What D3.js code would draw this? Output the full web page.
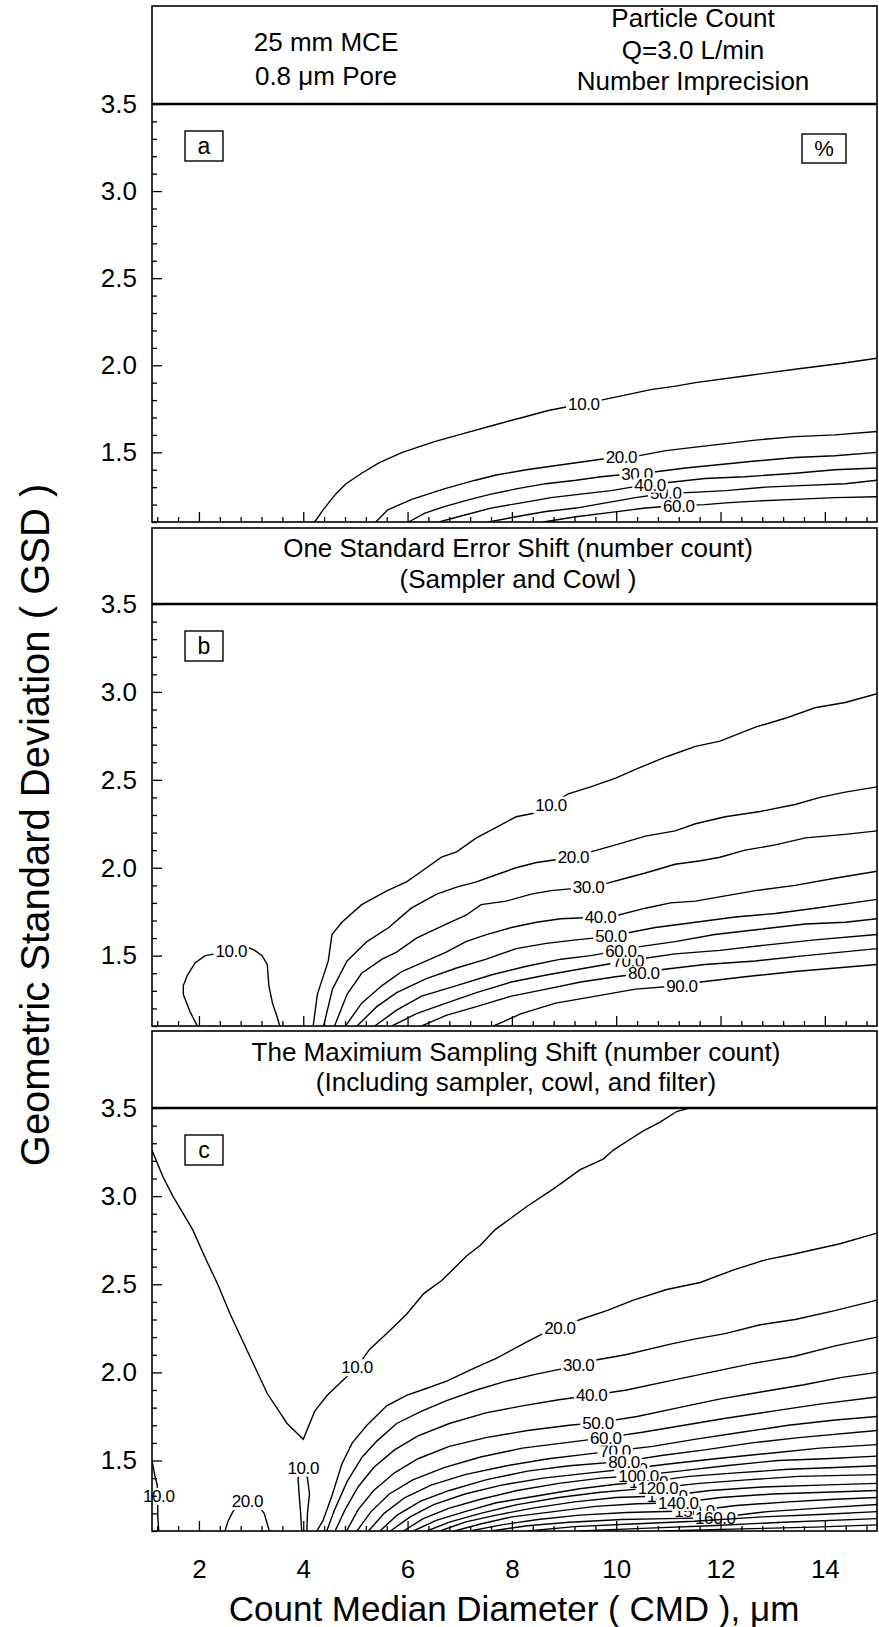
<!DOCTYPE html>
<html>
<head>
<meta charset="utf-8">
<script src="https://cdn.jsdelivr.net/npm/d3@7"></script>
<style>
  body { margin: 0; background: #fff; }
  text { font-family: "Liberation Sans", Arial, sans-serif; fill: #000; }
</style>
</head>
<body>
<svg width="879" height="1627"></svg>
<script>
// ---- data ----
const xDomain = [1.1, 15];
const yDomain = [1.1, 3.5];
const xTicks = [2, 4, 6, 8, 10, 12, 14];
const yTicks = [1.5, 2.0, 2.5, 3.0, 3.5];

const headerA_left = ['25 mm MCE', '0.8 \u03bcm Pore'];
const headerA_right = ['Particle Count', 'Q=3.0 L/min', 'Number Imprecision'];
const headerB = ['One Standard Error Shift (number count)', '(Sampler and Cowl )'];
const headerC = ['The Maximium Sampling Shift (number count)', '(Including sampler, cowl, and filter)'];
const panelTags = ['a', 'b', 'c'];

// contour lines: level, label position, points [CMD, GSD]
const contoursA = [
  {level: 10, label: [9.38, 1.78], pts: [[4.22,1.1],[4.38,1.17],[4.62,1.26],[4.82,1.32],[5.12,1.38],[5.45,1.44],[5.90,1.50],[6.50,1.56],[7.10,1.61],[7.70,1.66],[8.20,1.70],[8.70,1.74],[9.04,1.76],[9.38,1.78],[9.71,1.80],[10.19,1.83],[10.66,1.86],[11.14,1.88],[11.52,1.90],[12.5,1.94],[13.5,1.98],[14.3,2.01],[15,2.04]]},
  {level: 20, label: [10.1, 1.475], pts: [[5.39,1.1],[5.62,1.17],[6.08,1.23],[6.70,1.29],[7.30,1.34],[7.70,1.37],[8.28,1.40],[8.75,1.42],[9.23,1.44],[9.71,1.46],[10.1,1.47],[10.42,1.48],[10.95,1.51],[11.52,1.53],[12.10,1.55],[12.67,1.57],[13.43,1.59],[14.19,1.60],[15,1.62]]},
  {level: 30, label: [10.40, 1.375], pts: [[6.02,1.1],[6.32,1.15],[6.72,1.19],[7.20,1.23],[7.60,1.26],[8.08,1.29],[8.65,1.32],[9.23,1.34],[9.71,1.36],[10.05,1.37],[10.40,1.375],[10.80,1.39],[11.33,1.41],[12.0,1.43],[12.67,1.45],[13.43,1.47],[14.19,1.48],[15,1.50]]},
  {level: 40, label: [10.65, 1.315], pts: [[6.60,1.1],[7.10,1.14],[7.60,1.18],[8.18,1.21],[8.75,1.24],[9.32,1.26],[9.90,1.28],[10.30,1.30],[10.65,1.315],[11.09,1.33],[11.70,1.35],[12.47,1.36],[13.43,1.38],[14.19,1.40],[15,1.41]]},
  {level: 50, label: [10.95, 1.265], pts: [[7.55,1.1],[8.08,1.13],[8.65,1.16],[9.23,1.18],[9.80,1.21],[10.37,1.24],[10.95,1.265],[11.47,1.27],[12.10,1.28],[12.86,1.30],[13.63,1.31],[14.39,1.32],[15,1.34]]},
  {level: 60, label: [11.20, 1.195], pts: [[8.60,1.1],[9.23,1.13],[9.90,1.155],[10.56,1.18],[11.20,1.195],[11.70,1.20],[12.10,1.21],[12.67,1.22],[13.43,1.23],[14.19,1.24],[15,1.245]]}
];

const contoursB = [
  {level: 10, label: [2.62, 1.53], pts: [[1.97,1.1],[1.83,1.18],[1.70,1.28],[1.70,1.33],[1.78,1.39],[1.93,1.46],[2.12,1.50],[2.31,1.51],[2.62,1.53],[2.92,1.55],[3.07,1.53],[3.21,1.50],[3.31,1.45],[3.34,1.33],[3.41,1.23],[3.50,1.15],[3.55,1.1]]},
  {level: 10, label: [8.75, 2.36], pts: [[4.19,1.1],[4.27,1.28],[4.48,1.47],[4.55,1.62],[4.74,1.69],[5.12,1.79],[5.61,1.87],[5.98,1.92],[6.27,1.98],[6.65,2.06],[6.94,2.09],[7.32,2.17],[7.70,2.23],[8.08,2.29],[8.42,2.31],[8.75,2.36],[9.08,2.42],[9.51,2.46],[9.99,2.51],[10.37,2.56],[10.95,2.63],[11.52,2.69],[11.99,2.72],[12.67,2.80],[13.24,2.85],[13.81,2.91],[14.39,2.94],[15,2.99]]},
  {level: 20, label: [9.18, 2.06], pts: [[4.39,1.1],[4.56,1.31],[4.84,1.47],[5.22,1.58],[5.64,1.66],[6.07,1.77],[6.56,1.85],[6.94,1.89],[7.32,1.92],[7.70,1.96],[8.08,2.0],[8.47,2.03],[9.18,2.06],[9.51,2.09],[9.99,2.13],[10.56,2.18],[11.13,2.21],[11.52,2.25],[12.09,2.29],[12.76,2.32],[13.43,2.36],[13.91,2.40],[14.39,2.43],[15,2.46]]},
  {level: 30, label: [9.47, 1.89], pts: [[4.60,1.1],[4.84,1.28],[5.12,1.40],[5.51,1.48],[5.79,1.52],[6.17,1.60],[6.74,1.68],[7.12,1.73],[7.41,1.79],[7.89,1.81],[8.37,1.85],[8.75,1.87],[9.47,1.89],[9.80,1.91],[10.18,1.94],[10.56,1.97],[11.13,2.02],[11.62,2.04],[11.99,2.06],[12.47,2.10],[13.05,2.13],[13.63,2.17],[14.39,2.19],[15,2.21]]},
  {level: 40, label: [9.70, 1.72], pts: [[4.81,1.1],[5.12,1.23],[5.51,1.33],[5.89,1.41],[6.36,1.47],[6.74,1.52],[7.12,1.58],[7.51,1.62],[7.99,1.66],[8.47,1.69],[8.94,1.71],[9.70,1.72],[10.03,1.73],[10.56,1.77],[11.04,1.80],[11.52,1.81],[12.09,1.84],[12.67,1.87],[13.43,1.90],[14.19,1.94],[15,1.98]]},
  {level: 50, label: [9.90, 1.61], pts: [[5.03,1.1],[5.41,1.21],[5.79,1.29],[6.36,1.37],[6.94,1.43],[7.51,1.48],[8.08,1.54],[8.66,1.57],[9.23,1.59],[9.90,1.61],[10.23,1.63],[10.75,1.66],[11.52,1.69],[12.28,1.72],[13.05,1.74],[13.81,1.77],[15,1.82]]},
  {level: 60, label: [10.09, 1.53], pts: [[5.37,1.1],[5.79,1.19],[6.27,1.27],[6.94,1.33],[7.60,1.39],[8.28,1.44],[8.94,1.48],[9.51,1.50],[10.09,1.53],[10.42,1.55],[11.13,1.58],[11.89,1.62],[12.76,1.65],[13.63,1.68],[14.39,1.69],[15,1.71]]},
  {level: 70, label: [10.23, 1.47], pts: [[5.70,1.1],[6.17,1.17],[6.74,1.23],[7.32,1.29],[7.99,1.35],[8.66,1.39],[9.23,1.42],[9.80,1.45],[10.23,1.47],[10.42,1.48],[11.13,1.51],[11.99,1.53],[12.86,1.56],[13.81,1.59],[15,1.62]]},
  {level: 80, label: [10.53, 1.40], pts: [[6.27,1.1],[6.74,1.16],[7.32,1.21],[7.99,1.27],[8.66,1.31],[9.32,1.35],[9.99,1.38],[10.53,1.40],[10.85,1.42],[11.70,1.45],[12.67,1.47],[13.63,1.50],[15,1.54]]},
  {level: 90, label: [11.26, 1.33], pts: [[7.65,1.1],[8.18,1.17],[8.84,1.23],[9.61,1.27],[10.37,1.31],[11.26,1.33],[11.62,1.35],[12.47,1.38],[13.43,1.41],[15,1.45]]}
];

const contoursC = [
  {level: 10, label: [1.23, 1.30], pts: [[1.1,1.50],[1.15,1.42],[1.2,1.36],[1.21,1.30],[1.21,1.19],[1.23,1.1]]},
  {level: 20, label: [2.93, 1.27], pts: [[2.50,1.1],[2.55,1.15],[2.65,1.21],[2.80,1.26],[2.95,1.28],[3.10,1.26],[3.25,1.20],[3.35,1.1]]},
  {level: 10, label: [4.0, 1.46], pts: [[3.97,1.1],[3.95,1.2],[3.92,1.31],[3.90,1.40],[4.0,1.47],[4.08,1.40],[4.12,1.31],[4.08,1.2],[4.07,1.1]]},
  {level: 10, label: [5.03, 2.03], pts: [[1.1,3.26],[1.31,3.11],[1.50,3.0],[1.88,2.81],[2.12,2.65],[2.36,2.50],[2.60,2.33],[2.93,2.12],[3.31,1.88],[3.69,1.71],[4.0,1.62],[4.22,1.78],[4.46,1.87],[4.74,1.95],[5.03,2.03],[5.27,2.13],[5.60,2.22],[5.98,2.33],[6.32,2.45],[6.65,2.52],[7.13,2.66],[7.39,2.72],[7.68,2.81],[7.96,2.87],[8.28,2.94],[8.79,3.04],[9.31,3.15],[9.75,3.21],[9.94,3.26],[10.2,3.31],[10.52,3.37],[10.84,3.42],[11.16,3.48],[11.4,3.5]]},
  {level: 20, label: [8.92, 2.25], pts: [[4.26,1.1],[4.38,1.16],[4.55,1.30],[4.74,1.48],[4.94,1.60],[5.22,1.70],[5.60,1.81],[5.98,1.87],[6.37,1.91],[6.75,1.95],[7.32,2.03],[7.70,2.08],[8.27,2.17],[8.66,2.23],[8.92,2.25],[9.31,2.30],[9.82,2.35],[10.33,2.41],[10.97,2.47],[11.61,2.51],[12.24,2.58],[12.88,2.64],[13.39,2.67],[14.29,2.73],[15,2.79]]},
  {level: 30, label: [9.28, 2.04], pts: [[4.45,1.1],[4.60,1.22],[4.84,1.38],[5.13,1.52],[5.41,1.61],[5.79,1.71],[6.27,1.78],[6.75,1.84],[7.32,1.90],[7.89,1.95],[8.47,1.99],[9.28,2.04],[9.61,2.07],[10.18,2.10],[11.04,2.16],[11.52,2.19],[12.09,2.22],[12.76,2.27],[13.43,2.30],[14.19,2.35],[15,2.41]]},
  {level: 40, label: [9.53, 1.87], pts: [[4.61,1.1],[4.80,1.22],[5.05,1.35],[5.35,1.46],[5.75,1.56],[6.20,1.64],[6.80,1.71],[7.50,1.77],[8.20,1.81],[8.90,1.845],[9.53,1.87],[10.20,1.90],[11.0,1.95],[11.8,2.0],[12.6,2.05],[13.4,2.09],[14.2,2.15],[15,2.20]]},
  {level: 50, label: [9.65, 1.715], pts: [[4.83,1.1],[5.05,1.22],[5.35,1.33],[5.75,1.43],[6.20,1.51],[6.80,1.58],[7.50,1.63],[8.30,1.67],[9.10,1.70],[9.65,1.715],[10.4,1.75],[11.2,1.80],[12.0,1.85],[12.8,1.89],[13.6,1.93],[14.3,1.97],[15,2.0]]},
  {level: 60, label: [9.80, 1.63], pts: [[5.03,1.1],[5.30,1.21],[5.65,1.31],[6.10,1.39],[6.70,1.46],[7.40,1.52],[8.20,1.57],[9.0,1.60],[9.80,1.63],[10.5,1.66],[11.3,1.70],[12.1,1.74],[13.0,1.78],[13.9,1.82],[15,1.86]]},
  {level: 70, label: [9.98, 1.555], pts: [[5.25,1.1],[5.55,1.20],[5.95,1.29],[6.45,1.36],[7.10,1.42],[7.90,1.47],[8.70,1.51],[9.40,1.535],[9.98,1.555],[10.7,1.58],[11.5,1.62],[12.4,1.66],[13.3,1.70],[14.2,1.73],[15,1.75]]},
  {level: 80, label: [10.15, 1.495], pts: [[5.47,1.1],[5.80,1.19],[6.25,1.27],[6.80,1.33],[7.50,1.39],[8.30,1.44],[9.10,1.47],[10.15,1.495],[10.9,1.53],[11.7,1.56],[12.6,1.60],[13.5,1.63],[15,1.67]]},
  {level: 90, label: [10.30, 1.455], pts: [[5.67,1.1],[6.05,1.18],[6.50,1.25],[7.10,1.31],[7.80,1.36],[8.60,1.40],[9.50,1.43],[10.30,1.455],[11.0,1.48],[11.9,1.51],[12.9,1.54],[13.9,1.57],[15,1.59]]},
  {level: 100, label: [10.43, 1.415], pts: [[5.92,1.1],[6.30,1.17],[6.80,1.23],[7.40,1.28],[8.10,1.33],[8.90,1.37],[9.70,1.40],[10.43,1.415],[11.2,1.44],[12.1,1.47],[13.1,1.50],[14.0,1.51],[15,1.525]]},
  {level: 110, label: [10.62, 1.38], pts: [[6.11,1.1],[6.55,1.16],[7.10,1.21],[7.70,1.26],[8.50,1.30],[9.30,1.34],[10.0,1.365],[10.62,1.38],[11.4,1.41],[12.3,1.43],[13.3,1.45],[14.2,1.46],[15,1.47]]},
  {level: 120, label: [10.80, 1.345], pts: [[6.37,1.1],[6.80,1.15],[7.40,1.20],[8.10,1.25],[8.90,1.29],[9.70,1.32],[10.3,1.335],[10.80,1.345],[11.6,1.37],[12.5,1.39],[13.5,1.41],[15,1.42]]},
  {level: 130, label: [10.98, 1.30], pts: [[6.62,1.1],[7.10,1.15],[7.70,1.19],[8.40,1.23],[9.20,1.265],[10.0,1.29],[10.98,1.30],[11.8,1.33],[12.8,1.35],[13.9,1.36],[15,1.37]]},
  {level: 140, label: [11.19, 1.26], pts: [[6.90,1.1],[7.40,1.14],[8.0,1.18],[8.80,1.21],[9.60,1.24],[10.4,1.255],[11.19,1.26],[12.0,1.29],[13.0,1.31],[14.0,1.32],[15,1.33]]},
  {level: 150, label: [11.50, 1.215], pts: [[7.20,1.1],[7.80,1.135],[8.50,1.165],[9.30,1.19],[10.2,1.205],[11.50,1.215],[12.3,1.245],[13.3,1.265],[14.2,1.28],[15,1.29]]},
  {level: 160, label: [11.90, 1.175], pts: [[7.60,1.1],[8.30,1.13],[9.10,1.15],[10.1,1.165],[11.0,1.17],[11.90,1.175],[12.9,1.21],[13.9,1.23],[15,1.25]]},
  {level: 170, label: null, pts: [[8.30,1.1],[9.20,1.125],[10.3,1.14],[11.5,1.155],[12.8,1.18],[14.0,1.195],[15,1.21]]},
  {level: 180, label: null, pts: [[9.30,1.1],[10.5,1.115],[11.8,1.13],[13.2,1.15],[15,1.17]]},
  {level: 190, label: null, pts: [[10.9,1.1],[12.4,1.112],[13.8,1.122],[15,1.135]]}
];

// ---- layout ----
const svg = d3.select('svg');
const left = 152, right = 877;
const x = d3.scaleLinear().domain(xDomain).range([left, right]);
const fmt = d3.format('.1f');
const defs = svg.append('defs');

const panels = [
  {top: 6, y35: 104, bottom: 522, lines: contoursA},
  {top: 528, y35: 604, bottom: 1026, lines: contoursB},
  {top: 1031, y35: 1108, bottom: 1531, lines: contoursC}
];

panels.forEach((p, pi) => {
  const y = d3.scaleLinear().domain(yDomain).range([p.bottom, p.y35]);
  const g = svg.append('g');

  defs.append('clipPath').attr('id', 'clip' + pi)
    .append('rect')
    .attr('x', left).attr('y', p.y35)
    .attr('width', right - left).attr('height', p.bottom - p.y35);

  // contour labels on white boxes; odd tens go underneath their neighbours
  const labelled = p.lines.filter(d => d.label)
    .sort((a, b) => ((b.level / 10) % 2) - ((a.level / 10) % 2));
  const lab = g.append('g').selectAll('g')
    .data(labelled)
    .join('g');
  lab.append('rect').attr('fill', '#fff');
  lab.append('text')
    .attr('x', d => x(d.label[0]))
    .attr('y', d => y(d.label[1]))
    .attr('dy', '0.36em')
    .attr('text-anchor', 'middle')
    .attr('font-size', 17)
    .attr('letter-spacing', -0.4)
    .text(d => fmt(d.level));
  lab.each(function(d) {
    const b = d3.select(this).select('text').node().getBBox();
    d.box = b;
    d3.select(this).select('rect')
      .attr('x', b.x - 1).attr('y', b.y + 2)
      .attr('width', b.width + 2).attr('height', b.height - 4);
  });

  // each line gets a gap where its own label sits
  p.lines.forEach((d, i) => {
    const m = defs.append('mask').attr('id', `m${pi}_${i}`)
      .attr('maskUnits', 'userSpaceOnUse')
      .attr('x', 0).attr('y', 0).attr('width', 879).attr('height', 1627);
    m.append('rect').attr('width', 879).attr('height', 1627).attr('fill', '#fff');
    if (d.box) {
      m.append('rect')
        .attr('x', d.box.x - 2).attr('y', d.box.y + 1)
        .attr('width', d.box.width + 4).attr('height', d.box.height - 2)
        .attr('fill', '#000');
    }
  });

  const line = d3.line().x(d => x(d[0])).y(d => y(d[1]));
  g.append('g').attr('clip-path', `url(#clip${pi})`)
    .selectAll('path')
    .data(p.lines)
    .join('path')
    .attr('d', d => line(d.pts))
    .attr('mask', (d, i) => `url(#m${pi}_${i})`)
    .attr('fill', 'none')
    .attr('stroke', '#000')
    .attr('stroke-width', 1.4);

  // y axis: major and minor ticks pointing inwards
  const yMinor = d3.range(11, 35).map(v => v / 10).filter(v => !yTicks.some(t => Math.abs(t - v) < 1e-6));
  g.append('g').attr('transform', `translate(${left},0)`)
    .call(d3.axisLeft(y).tickValues(yMinor).tickSize(-5).tickFormat(''))
    .call(s => s.select('.domain').remove());
  g.append('g').attr('transform', `translate(${left},0)`)
    .call(d3.axisLeft(y).tickValues(yTicks).tickSize(-10).tickPadding(15).tickFormat(fmt))
    .call(s => s.select('.domain').remove())
    .call(s => s.selectAll('text').attr('font-size', 26).attr('font-family', null));

  // x axis
  const xMinor = d3.range(3, 38).map(i => +(i * 0.4).toFixed(1)).filter(v => !xTicks.includes(v));
  g.append('g').attr('transform', `translate(0,${p.bottom})`)
    .call(d3.axisBottom(x).tickValues(xMinor).tickSize(-5).tickFormat(''))
    .call(s => s.select('.domain').remove());
  g.append('g').attr('transform', `translate(0,${p.bottom})`)
    .call(d3.axisBottom(x).tickValues(xTicks).tickSize(-10).tickPadding(29)
      .tickFormat(pi === 2 ? d3.format('d') : ''))
    .call(s => s.select('.domain').remove())
    .call(s => s.selectAll('text').attr('font-size', 26).attr('font-family', null));

  g.selectAll('.tick line').attr('stroke-width', 1.3);

  // frame and header separator
  g.append('rect')
    .attr('x', left).attr('y', p.top)
    .attr('width', right - left).attr('height', p.bottom - p.top)
    .attr('fill', 'none').attr('stroke', '#000').attr('stroke-width', 1.6);
  g.append('line')
    .attr('x1', left).attr('x2', right).attr('y1', p.y35).attr('y2', p.y35)
    .attr('stroke', '#000').attr('stroke-width', 2.4);

  // panel tag box
  g.append('rect')
    .attr('x', 185).attr('y', p.y35 + 27).attr('width', 38).attr('height', 30)
    .attr('fill', '#fff').attr('stroke', '#000').attr('stroke-width', 1.4);
  g.append('text')
    .attr('x', 204).attr('y', p.y35 + 50)
    .attr('text-anchor', 'middle').attr('font-size', 23)
    .text(panelTags[pi]);
});

// percent box in panel a
svg.append('rect')
  .attr('x', 802).attr('y', 134).attr('width', 44).attr('height', 29)
  .attr('fill', '#fff').attr('stroke', '#000').attr('stroke-width', 1.4);
svg.append('text')
  .attr('x', 824).attr('y', 156).attr('text-anchor', 'middle').attr('font-size', 22)
  .text('%');

// header texts
function header(lines, cx, baselines, size) {
  svg.append('g').selectAll('text')
    .data(lines)
    .join('text')
    .attr('x', cx)
    .attr('y', (d, i) => baselines[i])
    .attr('text-anchor', 'middle')
    .attr('font-size', size)
    .text(d => d);
}
header(headerA_left, 326, [51, 85], 26);
header(headerA_right, 693, [27, 59, 90], 26);
header(headerB, 518, [557, 588], 26);
header(headerC, 516, [1061, 1091], 26);

// axis titles
svg.append('text')
  .attr('transform', 'translate(49,825) rotate(-90)')
  .attr('text-anchor', 'middle')
  .attr('font-size', 40)
  .text('Geometric Standard Deviation ( GSD )');
svg.append('text')
  .attr('x', 514).attr('y', 1621)
  .attr('text-anchor', 'middle')
  .attr('font-size', 35)
  .text('Count Median Diameter ( CMD ), \u03bcm');
</script>
</body>
</html>
